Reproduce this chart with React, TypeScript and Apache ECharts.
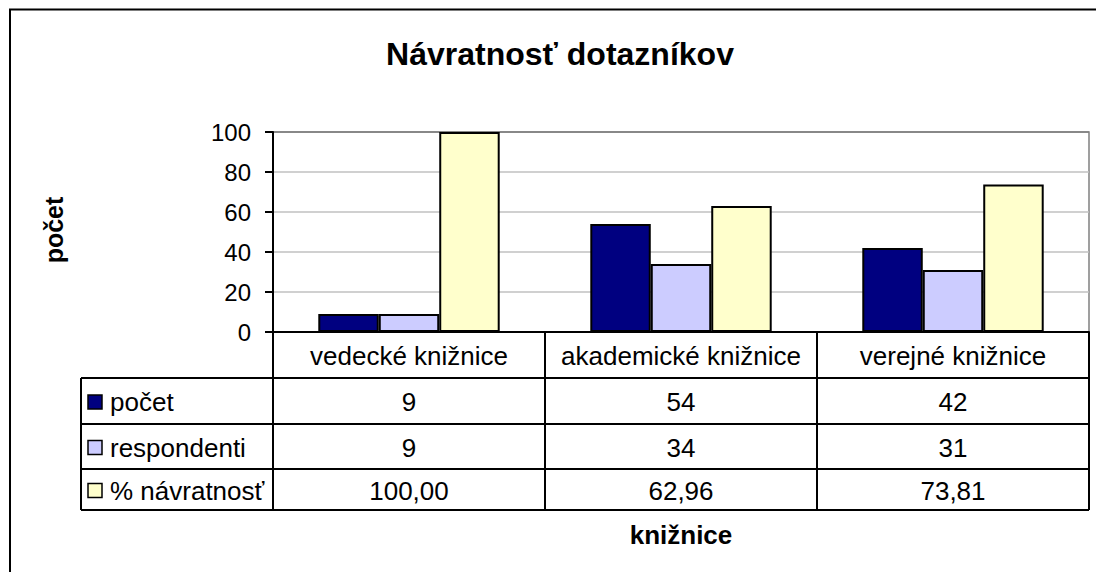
import React, { useEffect, useRef } from "react";
import * as echarts from "echarts";

const categories = ["vedecké knižnice", "akademické knižnice", "verejné knižnice"];
const seriesNames = ["počet", "respondenti", "% návratnosť"];
const pocet = [9, 54, 42];
const respondenti = [9, 34, 31];
const navratnost = [100.0, 62.96, 73.81];
const yMin = 0;
const yMax = 100;
const yInterval = 20;

const colors = ["#000080", "#CCCCFF", "#FFFFCC"];
const FONT = "'Liberation Sans', Arial, sans-serif";

const W = 1096;
const H = 572;
const GRID_L = 273;
const GRID_T = 132;
const GRID_W = 816;
const GRID_H = 200;
const ROWS = [332, 378, 424, 469, 510];
const TABLE_L = 81;

function fmt(si: number, v: number): string {
  if (si === 2) return v.toFixed(2).replace(".", ",");
  return String(v);
}

export default function App() {
  const ref = useRef<HTMLDivElement>(null);
  useEffect(() => {
    const chart = echarts.init(ref.current!, null, { renderer: "svg" });
    const seriesData = [pocet, respondenti, navratnost];
    const colW = GRID_W / categories.length;
    const right = GRID_L + GRID_W;
    const graphics: any[] = [];
    const line = (x1: number, y1: number, x2: number, y2: number) =>
      graphics.push({
        type: "line",
        shape: { x1, y1, x2, y2 },
        style: { stroke: "#000", lineWidth: 2 },
        z: 100,
      });
    // outer frame
    graphics.push({
      type: "rect",
      shape: { x: 10, y: 9.5, width: W + 40, height: H + 40 },
      style: { fill: "none", stroke: "#000", lineWidth: 2 },
    });
    // table vertical lines
    for (let i = 0; i <= categories.length; i++) {
      const x = GRID_L + i * colW;
      line(x, ROWS[0], x, ROWS[ROWS.length - 1]);
    }
    line(TABLE_L, ROWS[1], TABLE_L, ROWS[ROWS.length - 1]);
    for (let r = 1; r < ROWS.length; r++) line(TABLE_L, ROWS[r], right, ROWS[r]);
    // category header
    categories.forEach((c, i) => {
      graphics.push({
        type: "text",
        x: GRID_L + (i + 0.5) * colW,
        y: (ROWS[0] + ROWS[1]) / 2 + 1,
        style: {
          text: c,
          font: `26px ${FONT}`,
          fill: "#000",
          textAlign: "center",
          textVerticalAlign: "middle",
        },
      });
    });
    // rows
    seriesNames.forEach((name, si) => {
      const cy = (ROWS[si + 1] + ROWS[si + 2]) / 2 + 1;
      graphics.push({
        type: "rect",
        shape: { x: 88, y: cy - 7, width: 14, height: 14 },
        style: { fill: colors[si], stroke: "#000", lineWidth: 1.5 },
      });
      graphics.push({
        type: "text",
        x: 110,
        y: cy,
        style: {
          text: name,
          font: `26px ${FONT}`,
          fill: "#000",
          textAlign: "left",
          textVerticalAlign: "middle",
        },
      });
      seriesData[si].forEach((v, ci) => {
        graphics.push({
          type: "text",
          x: GRID_L + (ci + 0.5) * colW,
          y: cy,
          style: {
            text: fmt(si, v),
            font: `26px ${FONT}`,
            fill: "#000",
            textAlign: "center",
            textVerticalAlign: "middle",
          },
        });
      });
    });
    // axis titles
    graphics.push({
      type: "text",
      x: 54,
      y: 230,
      rotation: Math.PI / 2,
      style: {
        text: "počet",
        font: `bold 25px ${FONT}`,
        fill: "#000",
        textAlign: "center",
        textVerticalAlign: "middle",
      },
    });
    graphics.push({
      type: "text",
      x: GRID_L + GRID_W / 2,
      y: 535,
      style: {
        text: "knižnice",
        font: `bold 26px ${FONT}`,
        fill: "#000",
        textAlign: "center",
        textVerticalAlign: "middle",
      },
    });

    chart.setOption({
      animation: false,
      backgroundColor: "#fff",
      title: {
        text: "Návratnosť dotazníkov",
        left: 555,
        top: 49,
        textAlign: "center",
        textVerticalAlign: "middle",
        textStyle: { fontFamily: FONT, fontWeight: "bold", fontSize: 32, color: "#000" },
      },
      grid: {
        left: GRID_L,
        top: GRID_T,
        width: GRID_W,
        height: GRID_H,
        show: true,
        borderColor: "#808080",
        borderWidth: 1.5,
        backgroundColor: "transparent",
      },
      xAxis: {
        type: "category",
        data: categories,
        axisLine: { show: true, lineStyle: { color: "#000", width: 2 } },
        axisTick: { show: false },
        axisLabel: { show: false },
        splitLine: { show: false },
      },
      yAxis: {
        type: "value",
        min: yMin,
        max: yMax,
        interval: yInterval,
        axisLine: { show: true, lineStyle: { color: "#000", width: 2 } },
        axisTick: { show: true, length: 8, lineStyle: { color: "#000", width: 2 } },
        axisLabel: { fontFamily: FONT, fontSize: 24, color: "#000", margin: 22 },
        splitLine: {
          show: true,
          lineStyle: {
            color: ["#c0c0c0", "#c0c0c0", "#c0c0c0", "#c0c0c0", "#c0c0c0", "#808080"],
            width: 1.5,
          },
        },
      },
      series: seriesNames.map((name, si) => ({
        type: "bar",
        name,
        data: seriesData[si],
        barGap: "0%",
        barCategoryGap: "33.3%",
        itemStyle: { color: colors[si], borderColor: "#000", borderWidth: 2 },
      })),
      graphic: graphics,
    });
    return () => chart.dispose();
  }, []);
  return (
    <div
      ref={ref}
      style={{ position: "absolute", left: 0, top: 0, width: W, height: H, background: "#fff" }}
    />
  );
}
